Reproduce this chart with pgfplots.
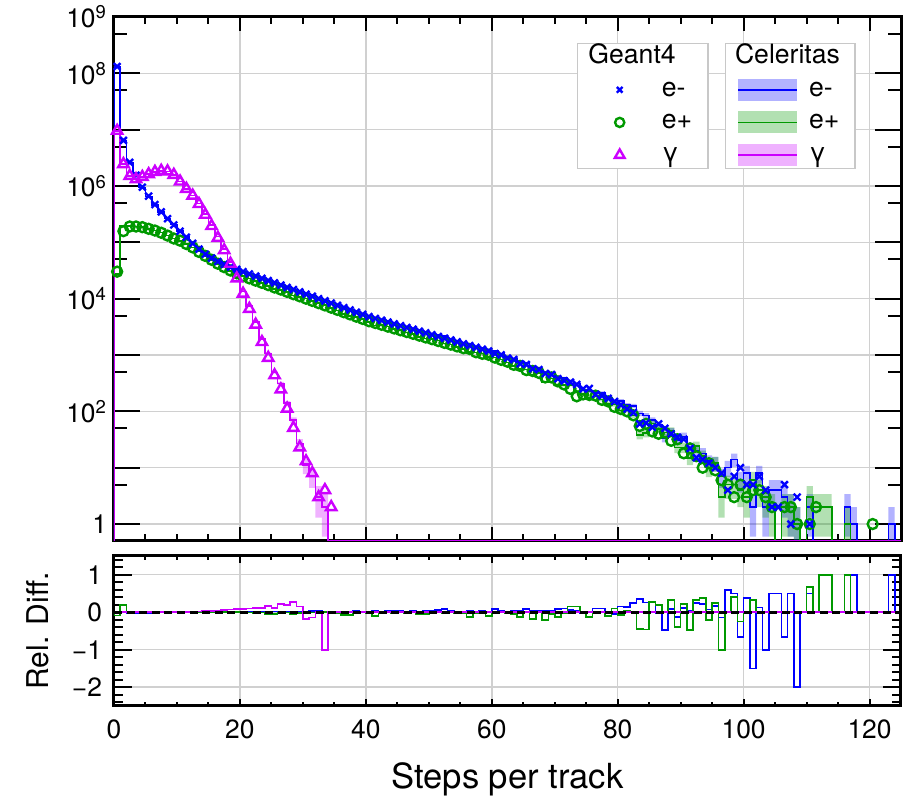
\documentclass[border=0pt]{standalone}
\usepackage{fontspec}
\setmainfont{TeX Gyre Heros}
\usepackage{pgfplots}
\usepackage{pgfplotstable}
\pgfplotsset{compat=1.18}
\usepgfplotslibrary{fillbetween}

\definecolor{cem}{RGB}{0,0,255}
\definecolor{cep}{RGB}{0,153,0}
\definecolor{cga}{RGB}{204,0,255}
\definecolor{gridc}{RGB}{208,208,208}
\definecolor{legc}{RGB}{200,200,200}

\newcommand{\ticksize}{\fontsize{13.2}{15}\selectfont}
\newcommand{\legsize}{\fontsize{13.3}{15}\selectfont}

\pgfplotsset{
  g4leg/.style={legend image code/.code={\path (0pt,0pt) (25pt,0pt); \draw[##1] plot coordinates {(12.5pt,0pt)};}},
  celleg/.style={legend image code/.code={\fill[draw=none, fill=#1, fill opacity=0.3] (0pt,-5.5pt) rectangle (29.5pt,5.5pt); \draw[#1, line width=0.8pt] (0pt,0pt) -- (29.5pt,0pt);}},
  hdr/.style 2 args={legend image code/.code={\node[overlay, draw=none, anchor=west, inner sep=0pt, text height=9.5pt, text depth=3pt, text width=70pt] at (#2,0pt) {#1};}},
  emmark/.style={only marks, mark=x, cem, mark size=2.4pt, line width=1.2pt},
  epmark/.style={only marks, mark=o, cep, mark size=2.5pt, line width=1.2pt},
  gamark/.style={only marks, mark=triangle, cga, mark size=3pt, line width=1.2pt},
}

% e-: bin left edge, bin centre, Geant4, Celeritas, rel. diff.
\pgfplotstableread{
b c g cel rd
0 nan nan 0.5 0
0 0.5 1.32e8 1.32e8 0
1 1.5 6.46e6 6.46e6 0
2 2.5 2.63e6 2.58e6 -0.02
3 3.5 1.55e6 1.52e6 -0.02
4 4.5 9.55e5 9.36e5 -0.02
5 5.5 6.61e5 6.48e5 -0.02
6 6.5 4.68e5 4.63e5 -0.01
7 7.5 3.47e5 3.47e5 0
8 8.5 2.63e5 2.63e5 0
9 9.5 2.04e5 2.06e5 0.01
10 10.5 1.58e5 1.58e5 0
11 11.5 1.23e5 1.24e5 0.01
12 12.5 9.55e4 9.55e4 0
13 13.5 7.59e4 7.67e4 0.01
14 14.5 6.17e4 6.17e4 0
15 15.5 5.25e4 5.30e4 0.01
16 16.5 4.57e4 4.62e4 0.01
17 17.5 4.07e4 4.07e4 0
18 18.5 3.63e4 3.67e4 0.01
19 19.5 3.31e4 3.38e4 0.02
20 20.5 3.02e4 3.05e4 0.01
21 21.5 2.75e4 2.75e4 0
22 22.5 2.51e4 2.56e4 0.02
23 23.5 2.29e4 2.31e4 0.01
24 24.5 2.09e4 2.09e4 0
25 25.5 1.91e4 1.95e4 0.02
26 26.5 1.74e4 1.76e4 0.01
27 27.5 1.58e4 1.61e4 0.02
28 28.5 1.45e4 1.45e4 0
29 29.5 1.32e4 1.33e4 0.01
30 30.5 1.20e4 1.22e4 0.02
31 31.5 1.10e4 1.15e4 0.04
32 32.5 1.00e4 1.03e4 0.03
33 33.5 9120 9210 0.01
34 34.5 8320 8490 0.02
35 35.5 7590 7590 0
36 36.5 6920 7060 0.02
37 37.5 6310 6370 0.01
38 38.5 5750 5930 0.03
39 39.5 5250 5360 0.02
40 40.5 4790 4840 0.01
41 41.5 4450 4590 0.03
42 42.5 4130 4210 0.02
43 43.5 3840 4000 0.04
44 44.5 3560 3750 0.05
45 45.5 3310 3450 0.04
46 46.5 3080 3140 0.02
47 47.5 2860 2950 0.03
48 48.5 2650 2680 0.01
49 49.5 2470 2550 0.03
50 50.5 2290 2390 0.04
51 51.5 2130 2270 0.06
52 52.5 1980 2150 0.08
53 53.5 1840 1940 0.05
54 54.5 1710 1740 0.02
55 55.5 1580 1600 0.01
56 56.5 1470 1520 0.03
57 57.5 1370 1400 0.02
58 58.5 1270 1320 0.04
59 59.5 1180 1190 0.01
60 60.5 1060 1165 0.09
61 61.5 1010 1041 0.03
62 62.5 880 898 0.02
63 63.5 830 874 0.05
64 64.5 700 722 0.03
65 65.5 680 739 0.08
66 66.5 570 594 0.04
67 67.5 550 579 0.05
68 68.5 470 485 0.03
69 69.5 450 474 0.05
70 70.5 380 413 0.08
71 71.5 350 389 0.10
72 72.5 330 351 0.06
73 73.5 300 313 0.04
74 74.5 250 243 -0.03
75 75.5 255 228 -0.12
76 76.5 200 222 0.10
77 77.5 190 211 0.10
78 78.5 170 173 0.02
79 79.5 150 144 -0.04
80 80.5 130 153 0.15
81 81.5 110 129 0.147
82 82.5 95 125 0.24
83 83.5 60 92 0.348
84 84.5 62 84 0.262
85 85.5 52 70 0.257
86 86.5 60 58 -0.034
87 87.5 50 34 -0.47
88 88.5 40 44 0.091
89 89.5 35 31 -0.129
90 90.5 32 36 0.111
91 91.5 22 23 0.043
92 92.5 15 20 0.25
93 93.5 14 18 0.222
94 94.5 12 13 0.077
95 95.5 10 12 0.167
96 96.5 8 7 -0.143
97 97.5 4 10 0.6
98 98.5 7 14 0.5
99 99.5 10 6 -0.667
100 100.5 5 8 0.375
101 101.5 5 2 -1.5
102 102.5 7 8 0.125
103 103.5 4 2 -1
104 104.5 2 4 0.5
105 105.5 2 4 0.5
106 106.5 5 3 -0.667
107 107.5 1 2 0.5
108 108.5 3 1 -2
109 109.5 nan 0.5 0
110 110.5 1 2 0.5
111 111.5 nan 0.5 0
116 116.5 nan 2 1
117 117.5 nan 1 1
118 118.5 nan 0.5 0
123 123.5 nan 1 1
124 124.5 nan 0.5 0
125 nan nan 0.5 0
}\emtab

% e+
\pgfplotstableread{
b c g cel rd
0 nan nan 0.5 0
0 0.5 3.02e4 2.77e4 -0.09
1 1.5 1.58e5 1.95e5 0.19
2 2.5 1.91e5 1.93e5 0.01
3 3.5 1.91e5 1.91e5 0
4 4.5 1.86e5 1.86e5 0
5 5.5 1.74e5 1.72e5 -0.01
6 6.5 1.62e5 1.62e5 0
7 7.5 1.48e5 1.49e5 0.01
8 8.5 1.32e5 1.32e5 0
9 9.5 1.17e5 1.17e5 0
10 10.5 1.07e5 1.06e5 -0.01
11 11.5 9.33e4 9.33e4 0
12 12.5 8.13e4 8.13e4 0
13 13.5 6.76e4 6.83e4 0.01
14 14.5 5.75e4 5.75e4 0
15 15.5 4.90e4 4.85e4 -0.01
16 16.5 4.17e4 4.17e4 0
17 17.5 3.63e4 3.63e4 0
18 18.5 3.16e4 3.13e4 -0.01
19 19.5 2.82e4 2.82e4 0
20 20.5 2.51e4 2.51e4 0
21 21.5 2.29e4 2.27e4 -0.01
22 22.5 2.09e4 2.05e4 -0.02
23 23.5 1.91e4 1.89e4 -0.01
24 24.5 1.74e4 1.66e4 -0.05
25 25.5 1.58e4 1.50e4 -0.05
26 26.5 1.45e4 1.42e4 -0.02
27 27.5 1.32e4 1.31e4 -0.01
28 28.5 1.20e4 1.14e4 -0.05
29 29.5 1.10e4 1.08e4 -0.02
30 30.5 1.00e4 1.00e4 0
31 31.5 9120 9030 -0.01
32 32.5 8320 8320 0
33 33.5 7590 7670 0.01
34 34.5 6920 6780 -0.02
35 35.5 6310 6130 -0.03
36 36.5 5750 5370 -0.07
37 37.5 5250 4910 -0.07
38 38.5 4790 4700 -0.02
39 39.5 4370 4330 -0.01
40 40.5 3980 3860 -0.03
41 41.5 3700 3360 -0.10
42 42.5 3440 3410 -0.01
43 43.5 3190 3190 0
44 44.5 2960 2900 -0.02
45 45.5 2750 2750 0
46 46.5 2560 2490 -0.03
47 47.5 2380 2360 -0.01
48 48.5 2210 2100 -0.05
49 49.5 2050 1950 -0.05
50 50.5 1910 1910 0
51 51.5 1770 1810 0.02
52 52.5 1640 1610 -0.02
53 53.5 1530 1530 0
54 54.5 1420 1380 -0.03
55 55.5 1320 1290 -0.02
56 56.5 1280 1130 -0.13
57 57.5 1120 1100 -0.02
58 58.5 1050 1060 0.01
59 59.5 1010 918 -0.10
60 60.5 900 900 0
61 61.5 820 837 0.02
62 62.5 760 738 -0.03
63 63.5 670 638 -0.05
64 64.5 640 566 -0.13
65 65.5 540 551 0.02
66 66.5 520 441 -0.18
67 67.5 480 480 0
68 68.5 400 333 -0.2
69 69.5 400 381 -0.05
70 70.5 340 301 -0.13
71 71.5 300 291 -0.03
72 72.5 250 294 0.15
73 73.5 185 218 0.15
74 74.5 200 204 0.02
75 75.5 195 174 -0.12
76 76.5 190 184 -0.03
77 77.5 160 163 0.02
78 78.5 150 136 -0.1
79 79.5 120 133 0.1
80 80.5 110 103 -0.068
81 81.5 100 105 0.048
82 82.5 85 85 0
83 83.5 55 38 -0.447
84 84.5 60 41 -0.463
85 85.5 44 61 0.279
86 86.5 40 50 0.2
87 87.5 42 42 0
88 88.5 30 45 0.333
89 89.5 32 23 -0.391
90 90.5 18 23 0.217
91 91.5 22 15 -0.467
92 92.5 16 24 0.333
93 93.5 10 16 0.375
94 94.5 12 10 -0.2
95 95.5 9 12 0.25
96 96.5 6 3 -1
97 97.5 5 5 0
98 98.5 3 5 0.4
99 99.5 5 4 -0.25
100 100.5 3 3 0
101 101.5 4 6 0.333
102 102.5 4 4 0
103 103.5 3 3 0
104 104.5 2 2 0
105 105.5 nan 0.5 0
106 106.5 2 2 0
107 107.5 2 2 0
108 108.5 1 1 0
109 109.5 nan 0.5 0
110 110.5 1 3 0.667
111 111.5 2 2 0
112 112.5 nan 2 1
113 113.5 nan 2 1
114 114.5 nan 0.5 0
116 116.5 nan 1 1
117 117.5 nan 0.5 0
120 120.5 1 0.5 0
121 121.5 nan 0.5 0
125 nan nan 0.5 0
}\eptab

% gamma
\pgfplotstableread{
b c g cel rd
0 nan nan 0.5 0
0 0.5 9.55e6 9.55e6 0
1 1.5 2.45e6 2.45e6 0
2 2.5 1.51e6 1.51e6 0
3 3.5 1.32e6 1.32e6 0
4 4.5 1.45e6 1.45e6 0
5 5.5 1.62e6 1.62e6 0
6 6.5 1.78e6 1.78e6 0
7 7.5 1.86e6 1.86e6 0
8 8.5 1.82e6 1.82e6 0
9 9.5 1.58e6 1.58e6 0
10 10.5 1.20e6 1.20e6 0
11 11.5 8.91e5 8.91e5 0
12 12.5 6.76e5 6.83e5 0.01
13 13.5 4.79e5 4.89e5 0.02
14 14.5 3.09e5 3.19e5 0.03
15 15.5 1.95e5 2.03e5 0.04
16 16.5 1.20e5 1.26e5 0.05
17 17.5 7.24e4 7.70e4 0.06
18 18.5 4.17e4 4.48e4 0.07
19 19.5 2.29e4 2.49e4 0.08
20 20.5 1.23e4 1.35e4 0.09
21 21.5 6610 7340 0.10
22 22.5 3470 3900 0.11
23 23.5 1700 1930 0.12
24 24.5 891 1070 0.17
25 25.5 437 491 0.11
26 26.5 245 314 0.22
27 27.5 112 140 0.20
28 28.5 51 70 0.27
29 29.5 23 27 0.15
30 30.5 13 11 -0.18
31 31.5 8 7 -0.14
32 32.5 3 3 0
33 33.5 4 2 -1
34 34.5 2 0.5 0
125 nan nan 0.5 0
}\gatab

% Celeritas statistical bands (lower, upper)
\pgfplotstableread{
b lo hi
70 393 433
71 369 409
72 332 370
73 295 331
74 227 259
75 213 243
76 207 237
77 196 226
78 160 186
79 132 156
80 140.6 165.4
81 117.6 140.4
82 113.8 136.2
83 82.4 101.6
84 74.8 93.2
85 61.6 78.4
86 50.4 65.6
87 28.2 39.8
88 37.4 50.6
89 25.4 36.6
90 30 42
91 18.2 27.8
92 15.5 24.5
93 13.8 22.2
94 9.4 16.6
95 8.5 15.5
96 4.4 9.6
97 6.8 13.2
98 10.3 17.7
99 3.6 8.4
100 5.2 10.8
101 0.6 3.4
102 5.2 10.8
103 0.6 3.4
104 2 6
105 2 6
106 1.3 4.7
107 0.6 3.4
108 0.3 2
109 0.3 0.3
110 0.6 3.4
111 0.3 0.3
116 0.6 3.4
117 0.3 2
118 0.3 0.3
123 0.3 2
124 0.3 0.3
125 0.3 0.3
}\emband

\pgfplotstableread{
b lo hi
70 283.7 318.3
71 274 308
72 276.9 311.1
73 203.2 232.8
74 189.7 218.3
75 160.8 187.2
76 170.4 197.6
77 150.2 175.8
78 124.3 147.7
79 121.5 144.5
80 92.9 113.1
81 94.8 115.2
82 75.8 94.2
83 31.8 44.2
84 34.6 47.4
85 53.2 68.8
86 42.9 57.1
87 35.5 48.5
88 38.3 51.7
89 18.2 27.8
90 18.2 27.8
91 11.1 18.9
92 19.1 28.9
93 12 20
94 6.8 13.2
95 8.5 15.5
96 1.3 4.7
97 2.8 7.2
98 2.8 7.2
99 2 6
100 1.3 4.7
101 3.6 8.4
102 2 6
103 1.3 4.7
104 0.6 3.4
105 0.3 0.3
106 0.6 3.4
107 0.6 3.4
108 0.3 2
109 0.3 0.3
110 1.3 4.7
111 0.6 3.4
112 0.6 3.4
113 0.6 3.4
114 0.3 0.3
116 0.3 2
117 0.3 0.3
125 0.3 0.3
}\epband

\pgfplotstableread{
b lo hi
20 13384 13616
21 7254 7426
22 3838 3962
23 1886 1974
24 1037 1103
25 469 513
26 296 332
27 128 152
28 61.6 78.4
29 21.8 32.2
30 7.7 14.3
31 4.4 9.6
32 1.3 4.7
33 0.6 3.4
34 0.3 0.3
35 0.3 0.3
}\gaband

\begin{document}
\begin{tikzpicture}
\begin{axis}[
  name=top, at={(0,0)}, anchor=south west,
  scale only axis, width=393.5pt, height=262pt,
  xmin=0, xmax=125,
  ymode=log, ymin=0.5, ymax=1e9,
  xtick={0,20,...,120}, minor x tick num=3, xticklabels={},
  ytick={1,10,100,1000,1e4,1e5,1e6,1e7,1e8,1e9},
  yticklabels={1,,10\textsuperscript{2},,10\textsuperscript{4},,10\textsuperscript{6},,10\textsuperscript{8},10\textsuperscript{9}},
  minor ytick={5,50,500,5e3,5e4,5e5,5e6,5e7,5e8},
  tick align=inside, tick pos=both,
  xtick style={/pgfplots/major tick length=7pt, /pgfplots/minor tick length=3.5pt},
  ytick style={/pgfplots/major tick length=13pt, /pgfplots/minor tick length=6.5pt},
  tick style={black, line width=1pt},
  axis line style={line width=1.5pt},
  grid=major, major grid style={draw=gridc, line width=0.75pt},
  tick label style={font=\ticksize},
  legend cell align=left,
  legend style={at={(0.588,0.9504)}, anchor=north west, draw=legc, line width=0.75pt,
    fill=white, inner xsep=8pt, inner ysep=0.5pt, row sep=3.8pt, column sep=8pt,
    font=\legsize, nodes={inner sep=0pt, text height=9.5pt, text depth=3pt, text width=15pt}},
]
% Celeritas bands
\addplot[name path=emlo, draw=none, const plot mark left, forget plot] table[x=b, y=lo] {\emband};
\addplot[name path=emhi, draw=none, const plot mark left, forget plot] table[x=b, y=hi] {\emband};
\addplot[fill=cem, fill opacity=0.3, draw=none, forget plot] fill between[of=emlo and emhi];
\addplot[name path=eplo, draw=none, const plot mark left, forget plot] table[x=b, y=lo] {\epband};
\addplot[name path=ephi, draw=none, const plot mark left, forget plot] table[x=b, y=hi] {\epband};
\addplot[fill=cep, fill opacity=0.3, draw=none, forget plot] fill between[of=eplo and ephi];
\addplot[name path=galo, draw=none, const plot mark left, forget plot] table[x=b, y=lo] {\gaband};
\addplot[name path=gahi, draw=none, const plot mark left, forget plot] table[x=b, y=hi] {\gaband};
\addplot[fill=cga, fill opacity=0.3, draw=none, forget plot] fill between[of=galo and gahi];
% Celeritas histograms
\addplot[cem, line width=0.8pt, const plot mark left, forget plot] table[x=b, y=cel] {\emtab};
\addplot[cep, line width=0.8pt, const plot mark left, forget plot] table[x=b, y=cel] {\eptab};
\addplot[cga, line width=0.8pt, const plot mark left, forget plot] table[x=b, y=cel] {\gatab};
% Geant4 points
\addplot[epmark, forget plot] table[x=c, y=g] {\eptab};
\addplot[emmark, forget plot] table[x=c, y=g] {\emtab};
\addplot[gamark, forget plot] table[x=c, y=g] {\gatab};
% Geant4 legend
\addlegendimage{hdr={Geant4}{-3.5pt}}
\addlegendentry{\mbox{}}
\addlegendimage{g4leg, only marks, mark=x, cem, mark size=2pt, line width=1.2pt}
\addlegendentry{e-}
\addlegendimage{g4leg, only marks, mark=o, cep, mark size=2.3pt, line width=1.2pt}
\addlegendentry{e+}
\addlegendimage{g4leg, only marks, mark=triangle, cga, mark size=2.8pt, line width=1.2pt}
\addlegendentry{γ}
\end{axis}

% Celeritas legend
\begin{axis}[
  at={(0,0)}, anchor=south west,
  scale only axis, width=393.5pt, height=262pt,
  hide axis, xmin=0, xmax=1, ymin=0, ymax=1,
  legend cell align=left,
  legend style={at={(0.776,0.9504)}, anchor=north west, draw=legc, line width=0.75pt,
    fill=white, inner xsep=6pt, inner ysep=0.5pt, row sep=3.8pt, column sep=5.5pt,
    font=\legsize, nodes={inner sep=0pt, text height=9.5pt, text depth=3pt, text width=17pt}},
]
\addlegendimage{hdr={Celeritas}{-2pt}}
\addlegendentry{\mbox{}}
\addlegendimage{celleg=cem}
\addlegendentry{e-}
\addlegendimage{celleg=cep}
\addlegendentry{e+}
\addlegendimage{celleg=cga}
\addlegendentry{γ}
\end{axis}

% ratio panel
\begin{axis}[
  at={(0,-7.5pt)}, anchor=north west,
  scale only axis, width=393.5pt, height=75pt,
  xmin=0, xmax=125, ymin=-2.5, ymax=1.5,
  xtick={0,20,...,120}, xticklabels={0,20,40,60,80,100,120}, minor x tick num=3,
  ytick={-2,-1,0,1}, yticklabels={−2,−1,0,1},
  minor ytick={-2.4,-2.2,-1.8,-1.6,-1.4,-1.2,-0.8,-0.6,-0.4,-0.2,0.2,0.4,0.6,0.8,1.2,1.4},
  tick align=inside, tick pos=both,
  xtick style={/pgfplots/major tick length=3.5pt, /pgfplots/minor tick length=2pt},
  ytick style={/pgfplots/major tick length=9pt, /pgfplots/minor tick length=4.5pt},
  tick style={black, line width=1pt},
  axis line style={line width=1.5pt},
  grid=major, major grid style={draw=gridc, line width=0.75pt},
  tick label style={font=\ticksize},
  xticklabel style={yshift=-3.5pt},
  yticklabel style={xshift=-2.5pt},
  xlabel={Steps per track}, ylabel={Rel. Diff.},
  xlabel style={font=\fontsize{17.3}{20}\selectfont, at={(axis description cs:0.5,-0.547)}, anchor=base},
  ylabel style={font=\fontsize{15}{18}\selectfont, at={(axis description cs:-0.0836,0.5)}, anchor=base},
]
\addplot[cem, line width=0.8pt, const plot mark left] table[x=b, y=rd] {\emtab};
\addplot[cep, line width=0.8pt, const plot mark left] table[x=b, y=rd] {\eptab};
\addplot[cga, line width=0.8pt, const plot mark left] table[x=b, y=rd] {\gatab};
\addplot[black, line width=1.4pt, dash pattern=on 4pt off 2.3pt] coordinates {(0,0) (125,0)};
\end{axis}

\pgfresetboundingbox
\path[use as bounding box] (-57pt,-128pt) rectangle (399pt,270.5pt);
\end{tikzpicture}
\end{document}
